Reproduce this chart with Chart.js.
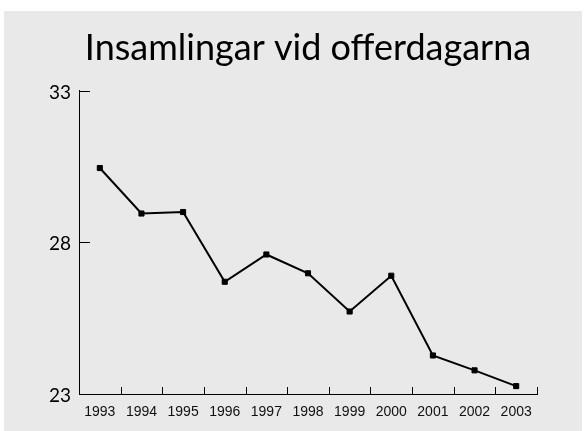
<!DOCTYPE html>
<html>
<head>
<meta charset="utf-8">
<title>Insamlingar vid offerdagarna</title>
<script src="https://cdn.jsdelivr.net/npm/chart.js@4.4.1/dist/chart.umd.min.js"></script>
<style>
    html, body { margin: 0; padding: 0; background: #ffffff; }
    #wrap { width: 586px; height: 431px; }
</style>
</head>
<body>
<div id="wrap"><canvas id="offerChart" width="586" height="431"></canvas></div>
<script>
"use strict";

/* chart data */
var chartTitle = 'Insamlingar vid offerdagarna';
var years = ['1993', '1994', '1995', '1996', '1997', '1998', '1999', '2000', '2001', '2002', '2003'];
var amounts = [30.45, 28.95, 29.0, 26.7, 27.6, 26.98, 25.72, 26.9, 24.27, 23.78, 23.26];
var yTicks = [23, 28, 33];

/* grey panel behind the chart */
var panelBackground = {
    id: 'panelBackground',
    beforeDraw: function (chart) {
        var ctx = chart.ctx;
        ctx.save();
        ctx.fillStyle = '#e9e9e9';
        ctx.fillRect(4, 11, 578, 420);
        ctx.restore();
    }
};

/* inward tick marks on both axes */
var innerTicks = {
    id: 'innerTicks',
    afterDatasetsDraw: function (chart) {
        var ctx = chart.ctx;
        var x = chart.scales.x;
        var y = chart.scales.y;
        ctx.save();
        ctx.strokeStyle = '#000';
        ctx.lineWidth = 1;
        ctx.beginPath();
        yTicks.forEach(function (v) {
            var py = Math.round(y.getPixelForValue(v)) + 0.5;
            ctx.moveTo(x.left, py);
            ctx.lineTo(x.left + 11, py);
        });
        var n = years.length;
        var step = x.width / n;
        for (var i = 1; i <= n; i++) {
            var px = Math.round(x.left + i * step) + 0.5;
            ctx.moveTo(px, x.top);
            ctx.lineTo(px, x.top - 7);
        }
        ctx.stroke();
        ctx.restore();
    }
};

var ctx = document.getElementById('offerChart').getContext('2d');
var offerChart = new Chart(ctx, {
    type: 'line',
    data: {
        labels: years,
        datasets: [{
            data: amounts,
            borderColor: '#000',
            borderWidth: 2,
            backgroundColor: '#000',
            pointStyle: 'rect',
            pointRadius: 3.6,
            pointBorderWidth: 1,
            pointBorderColor: '#000',
            pointBackgroundColor: '#000',
            tension: 0,
            fill: false
        }]
    },
    options: {
        responsive: false,
        animation: false,
        layout: {
            padding: { left: 0, right: 49, top: 0, bottom: 0 }
        },
        plugins: {
            legend: { display: false },
            tooltip: { enabled: false },
            title: {
                display: true,
                fullSize: false,
                text: chartTitle,
                color: '#000',
                font: { family: 'Lato', size: 36, weight: 'normal', lineHeight: 1.2 },
                padding: { top: 27, bottom: 20.5 }
            }
        },
        scales: {
            x: {
                type: 'category',
                offset: true,
                grid: { display: false, drawTicks: false, offset: true },
                border: { display: true, color: '#000', width: 1 },
                ticks: {
                    color: '#111',
                    padding: 10,
                    maxRotation: 0,
                    autoSkip: false,
                    font: { family: 'Liberation Sans', size: 14 }
                },
                afterFit: function (scale) {
                    scale.height = 37;
                }
            },
            y: {
                min: 23,
                max: 33,
                afterBuildTicks: function (scale) {
                    scale.ticks = yTicks.map(function (v) { return { value: v }; });
                },
                grid: { display: false, drawTicks: false },
                border: { display: true, color: '#000', width: 1 },
                ticks: {
                    color: '#000',
                    padding: 8,
                    labelOffset: 2,
                    font: { family: 'Lato', size: 19 }
                },
                afterFit: function (scale) {
                    scale.width = 79;
                }
            }
        }
    },
    plugins: [panelBackground, innerTicks]
});
</script>
</body>
</html>
